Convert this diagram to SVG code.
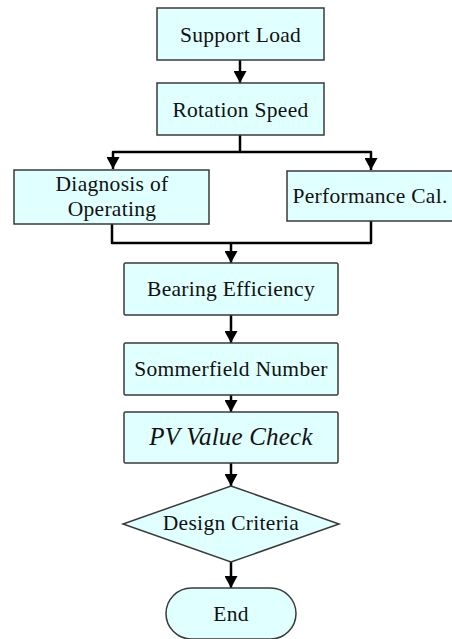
<svg xmlns="http://www.w3.org/2000/svg" width="452" height="639" viewBox="0 0 452 639">
<style>
.box{fill:#e0ffff;stroke:#3a3a3a;stroke-width:1.5}
.t{font-family:"Liberation Serif","Times New Roman",serif;font-size:21.5px;letter-spacing:0.3px;fill:#111;text-anchor:middle}
.i{font-style:italic;font-size:25px;letter-spacing:0.2px}
.c{fill:none;stroke:#000;stroke-width:2.5;stroke-linejoin:round}
</style>
<defs>
<marker id="ah" viewBox="0 0 12 13" refX="12" refY="6.5" markerWidth="12" markerHeight="13" markerUnits="userSpaceOnUse" orient="auto">
<path d="M0,0 L12,6.5 L0,13 Z" fill="#000"/>
</marker>
</defs>
<rect width="452" height="639" fill="#fff"/>
<g id="connectors">
<path class="c" d="M240,60 V83" marker-end="url(#ah)"/>
<path class="c" d="M240,135 V152 H113 V169" marker-end="url(#ah)"/>
<path class="c" d="M240,152 H371 V170" marker-end="url(#ah)"/>
<path class="c" d="M112,224 V243 H371 V221"/>
<path class="c" d="M231,243 V263" marker-end="url(#ah)"/>
<path class="c" d="M231,315 V343" marker-end="url(#ah)"/>
<path class="c" d="M231,395 V412" marker-end="url(#ah)"/>
<path class="c" d="M231,463 V486" marker-end="url(#ah)"/>
<path class="c" d="M231,562 V588" marker-end="url(#ah)"/>
</g>
<g id="support-load"><rect class="box" x="157" y="8" width="167" height="52"/><text class="t" x="240.5" y="41.5">Support Load</text></g>
<g id="rotation-speed"><rect class="box" x="157" y="83" width="167" height="52"/><text class="t" x="240.5" y="116.5">Rotation Speed</text></g>
<g id="diagnosis"><rect class="box" x="14" y="170" width="195" height="54"/><text class="t" x="112" y="191">Diagnosis of</text><text class="t" x="112" y="216">Operating</text></g>
<g id="performance"><rect class="box" x="287" y="171" width="170" height="50"/><text class="t" x="370" y="203">Performance Cal.</text></g>
<g id="bearing-efficiency"><rect class="box" x="124" y="263" width="214" height="52" rx="1.5"/><text class="t" x="231" y="296">Bearing Efficiency</text></g>
<g id="sommerfield"><rect class="box" x="124" y="343" width="214" height="52" rx="1.5"/><text class="t" x="231" y="376">Sommerfield Number</text></g>
<g id="pv-check"><rect class="box" x="124" y="412" width="214" height="51" rx="1.5"/><text class="t i" x="231" y="445">PV Value Check</text></g>
<g id="design-criteria"><polygon class="box" points="231,486 339,524 231,562 123,524"/><text class="t" x="231" y="530">Design Criteria</text></g>
<g id="end"><rect class="box" x="166" y="588" width="130" height="51" rx="25.5"/><text class="t" x="231" y="621">End</text></g>
</svg>
